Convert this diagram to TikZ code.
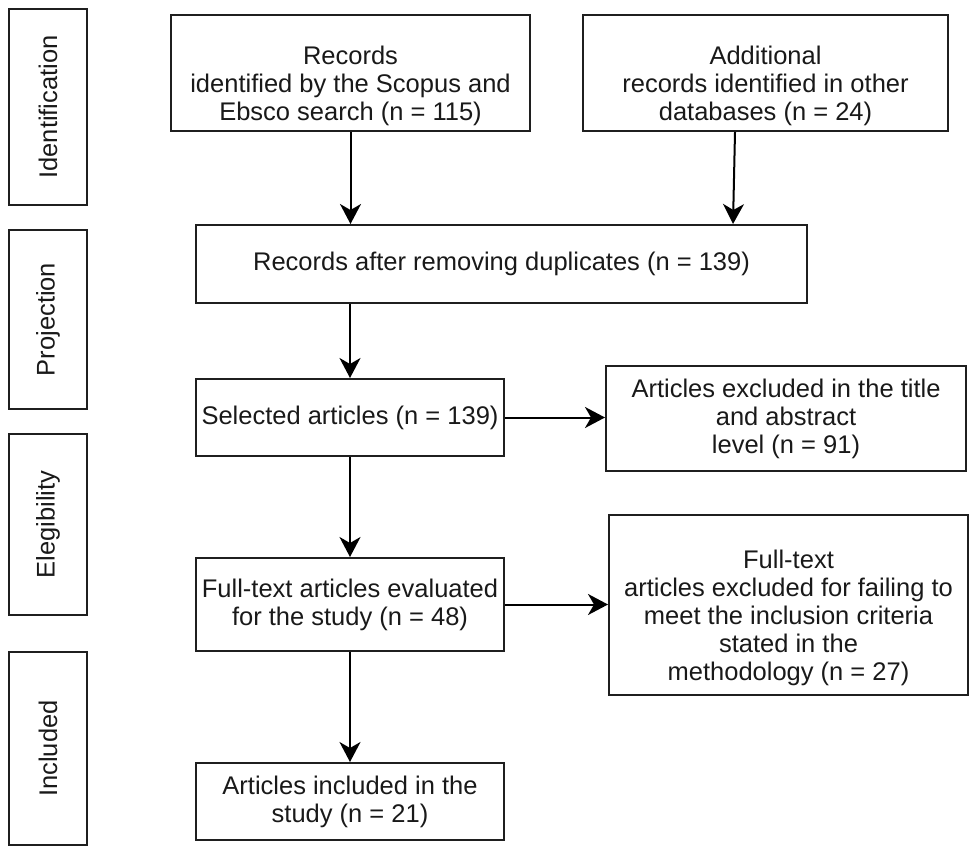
\documentclass[tikz,border=0pt]{standalone}
\usepackage{fontspec}
\newfontfamily\arialf{Liberation Sans}
\usetikzlibrary{arrows.meta}
\tikzset{
  box/.style={draw=black!88, line width=2pt, rectangle, inner sep=0pt, align=center,
    font=\arialf\fontsize{25.5}{28}\selectfont, text=black!90},
  side/.style={box, rotate=90},
  arr/.style={draw=black, line width=2pt, -{Stealth[length=20pt,width=21pt,inset=6pt]}}
}
\newcommand{\lowtext}[1]{\raisebox{-14pt}[\height][\depth]{\begin{tabular}{@{}c@{}}#1\end{tabular}}}
\begin{document}
\begin{tikzpicture}[x=1pt,y=-1pt]
\useasboundingbox (0,0) rectangle (979,848);
% side labels
\node[side, minimum width=196, minimum height=78] (ident) at (48,107) {Identification};
\node[side, minimum width=179, minimum height=78] (proj) at (48,319.5) {Projection};
\node[side, minimum width=181, minimum height=78] (elig) at (48,524.5) {Elegibility};
\node[side, minimum width=193, minimum height=78] (incl) at (48,748.5) {Included};
% main boxes
\node[box, minimum width=359, minimum height=116] (rec) at (350.5,73)
  {\lowtext{Records\\identified by the Scopus and\\Ebsco search (n = 115)}};
\node[box, minimum width=365, minimum height=116] (add) at (765.5,73)
  {\lowtext{Additional\\records identified in other\\databases (n = 24)}};
\node[box, minimum width=611, minimum height=78] (rem) at (501.5,264)
  {Records after removing duplicates (n = 139)};
\node[box, minimum width=308, minimum height=77] (sel) at (350,417.5)
  {Selected articles (n = 139)};
\node[box, minimum width=360, minimum height=105] (title) at (786,418.5)
  {Articles excluded in the title\\and abstract\\level (n = 91)};
\node[box, minimum width=308, minimum height=93] (eval) at (350,604.5)
  {Full-text articles evaluated\\for the study (n = 48)};
\node[box, minimum width=359, minimum height=180] (excl) at (788.5,605)
  {\lowtext{Full-text\\articles excluded for failing to\\meet the inclusion criteria\\stated in the\\methodology (n = 27)}};
\node[box, minimum width=308, minimum height=77] (inc) at (350,801.5)
  {Articles included in the\\study (n = 21)};
% connectors
\draw[arr] (rec.south) -- (rec.south |- rem.north);
\draw[arr] (add.south -| 735,0) -- (rem.north -| 733,0);
\draw[arr] (sel.north |- rem.south) -- (sel.north);
\draw[arr] (sel.east) -- (sel.east -| title.west);
\draw[arr] (sel.south) -- (eval.north);
\draw[arr] (eval.east) -- (eval.east -| excl.west);
\draw[arr] (eval.south) -- (inc.north);
\end{tikzpicture}
\end{document}
